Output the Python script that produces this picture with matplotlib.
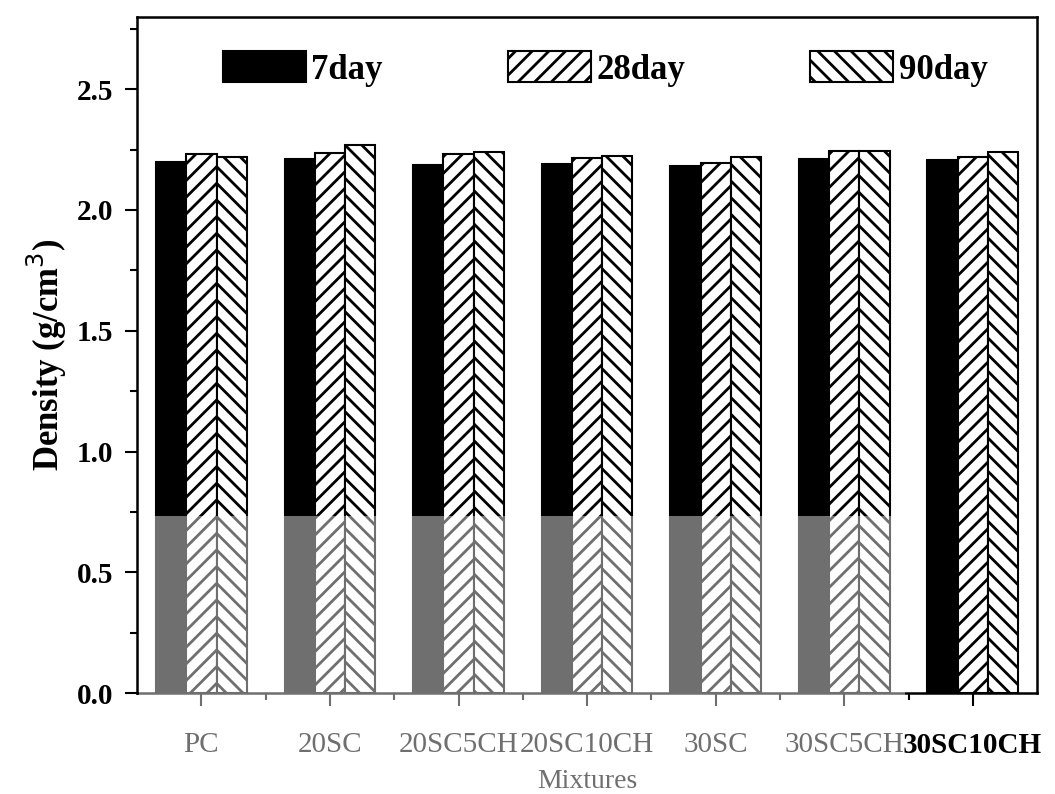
import numpy as np
import matplotlib
matplotlib.use("Agg")
import matplotlib.pyplot as plt
from matplotlib.patches import Rectangle

mixtures = ["PC", "20SC", "20SC5CH", "20SC10CH", "30SC", "30SC5CH", "30SC10CH"]
day7  = [2.20, 2.21, 2.185, 2.19, 2.18, 2.21, 2.205]
day28 = [2.23, 2.235, 2.23, 2.215, 2.195, 2.245, 2.22]
day90 = [2.22, 2.27, 2.24, 2.225, 2.22, 2.245, 2.24]
series = [("7day", day7), ("28day", day28), ("90day", day90)]

plt.rcParams['font.family'] = ['Liberation Serif', 'DejaVu Serif']
plt.rcParams['hatch.linewidth'] = 2.0
plt.rcParams['hatch.color'] = 'black'

fig = plt.figure(figsize=(10.55, 7.94), dpi=100)
ax = fig.add_axes([0.130, 0.127, 0.853, 0.852])

x = np.arange(len(mixtures))
w = 0.235
styles = [dict(color="black", edgecolor="black", hatch=None),
          dict(color="white", edgecolor="black", hatch="//"),
          dict(color="white", edgecolor="black", hatch="\\\\")]
for k, ((name, vals), st) in enumerate(zip(series, styles)):
    ax.bar(x + (k - 1) * w, vals, w, label=name, linewidth=1.5, **st)

ax.set_xlim(-0.5, 6.5)
ax.set_ylim(0, 2.8)
ax.set_yticks([0.0, 0.5, 1.0, 1.5, 2.0, 2.5])
ax.set_yticklabels(["0.0", "0.5", "1.0", "1.5", "2.0", "2.5"], fontsize=21, fontweight="bold")
ax.set_yticks(np.arange(0.25, 2.8, 0.5), minor=True)
ax.set_xticks(x)
ax.set_xticklabels(mixtures, fontsize=21)
ax.get_xticklabels()[-1].set_fontweight("bold")
ax.set_xticks(np.arange(0.5, 6.5, 1.0), minor=True)
ax.tick_params(which="major", length=9, width=1.5, direction="out")
ax.tick_params(which="minor", length=5, width=1.5, direction="out")
ax.tick_params(axis="y", which="major", pad=8)
ax.tick_params(axis="x", which="major", pad=19)
for s in ax.spines.values():
    s.set_linewidth(1.8)

ax.set_ylabel("Density (g/cm$^3$)", fontsize=25, fontweight="bold", labelpad=6)
ax.set_xlabel("Mixtures", fontsize=20, labelpad=7)

ax.legend(loc="upper center", ncol=3, frameon=False,
          prop=dict(family="Liberation Serif", weight="bold", size=25),
          handlelength=2.4, handleheight=1.0, handletextpad=0.15,
          columnspacing=3.6, bbox_to_anchor=(0.52, 0.995))

# scan artefact: lower-left part of the page printed grey
fig.add_artist(Rectangle((139 / 1055, 0), (905 - 139) / 1055, (794 - 516) / 794,
                         transform=fig.transFigure, facecolor="white", alpha=0.44,
                         edgecolor="none", zorder=10))

fig.savefig("out.png", dpi=100)
